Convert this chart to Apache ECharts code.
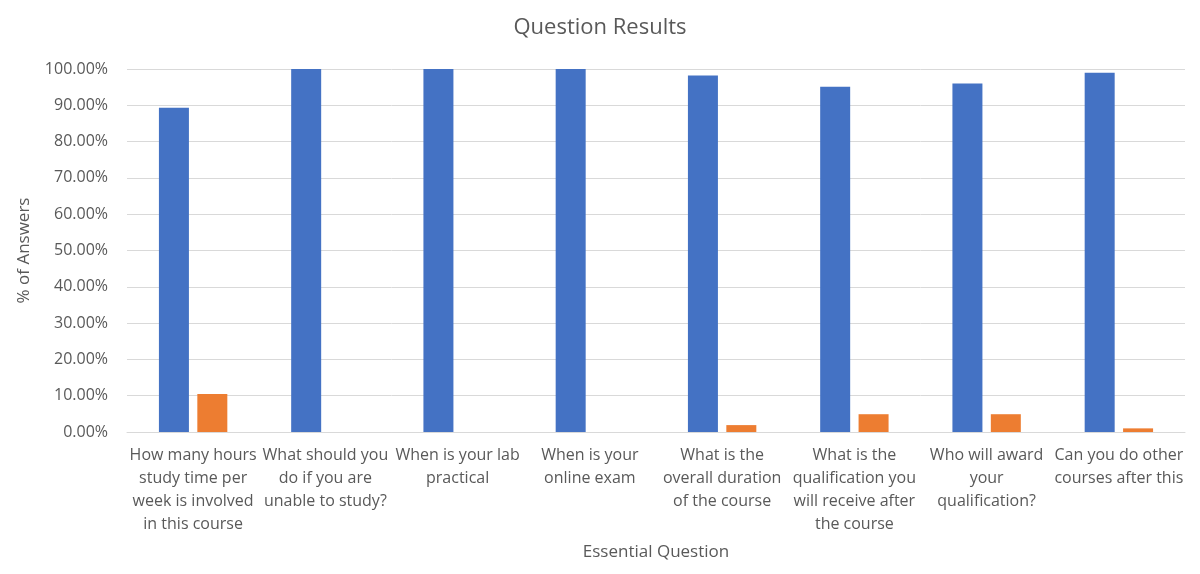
<!DOCTYPE html>
<html>
<head>
<meta charset="utf-8">
<style>
  html, body { margin: 0; padding: 0; background: #fff; }
  #chart { width: 1200px; height: 574px; }
</style>
<script src="https://cdn.jsdelivr.net/npm/echarts@6/dist/echarts.min.js"></script>
</head>
<body>
<div id="chart"></div>
<script>
// chart data
const questions = [
  'How many hours\nstudy time per\nweek is involved\nin this course',
  'What should you\ndo if you are\nunable to study?',
  'When is your lab\npractical',
  'When is your\nonline exam',
  'What is the\noverall duration\nof the course',
  'What is the\nqualification you\nwill receive after\nthe course',
  'Who will award\nyour\nqualification?',
  'Can you do other\ncourses after this'
];
const correctPct = [89.3, 100, 100, 100, 98.2, 95.1, 96.0, 99.0];
const wrongPct = [10.5, 0, 0, 0, 1.9, 4.9, 4.9, 1.0];
const yTicks = { min: 0, max: 100, interval: 10 };

const textColor = '#595959';
const fontFam = '"Open Sans", "Noto Sans", sans-serif';

const chart = echarts.init(document.getElementById('chart'));
chart.setOption({
  animation: false,
  title: {
    text: 'Question Results',
    left: 'center',
    top: 12,
    textStyle: { color: textColor, fontSize: 22, fontWeight: 'normal', fontFamily: fontFam }
  },
  legend: { show: false },
  grid: { left: 127, right: 15, top: 69, bottom: 142 },
  xAxis: {
    type: 'category',
    data: questions,
    name: 'Essential Question',
    nameLocation: 'middle',
    nameGap: 112,
    nameTextStyle: { color: textColor, fontSize: 17, fontFamily: fontFam },
    axisLine: { lineStyle: { color: '#d9d9d9', width: 1 } },
    axisTick: { show: false },
    axisLabel: {
      interval: 0,
      color: textColor,
      fontSize: 16,
      lineHeight: 23,
      margin: 12,
      fontFamily: fontFam
    }
  },
  yAxis: {
    type: 'value',
    min: yTicks.min,
    max: yTicks.max,
    interval: yTicks.interval,
    name: '% of Answers',
    nameLocation: 'middle',
    nameGap: 94,
    nameTextStyle: { color: textColor, fontSize: 17, fontFamily: fontFam },
    axisLine: { show: false },
    axisTick: { show: false },
    splitLine: { lineStyle: { color: '#d9d9d9', width: 1 } },
    axisLabel: {
      color: textColor,
      fontSize: 16,
      margin: 19,
      fontFamily: fontFam,
      formatter: v => v.toFixed(2) + '%'
    }
  },
  series: [
    {
      name: 'Correct',
      type: 'bar',
      data: correctPct,
      barWidth: 30,
      barGap: '28%',
      itemStyle: { color: '#4472C4' }
    },
    {
      name: 'Incorrect',
      type: 'bar',
      data: wrongPct,
      barWidth: 30,
      itemStyle: { color: '#ED7D31' }
    }
  ]
});
</script>
</body>
</html>
